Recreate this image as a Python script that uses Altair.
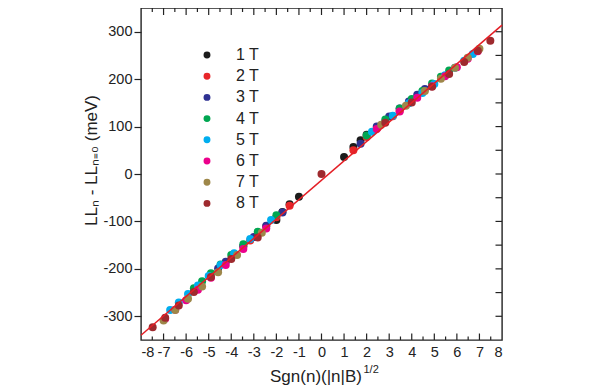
import altair as alt
import pandas as pd

fields = ["1 T", "2 T", "3 T", "4 T", "5 T", "6 T", "7 T", "8 T"]
colors = ["#1c1c1c", "#e8262a", "#2e3192", "#00a651", "#00aeef", "#ec008c", "#9e8749", "#9e2a2e"]

x_1T = [-2.0, -1.732, -1.414, -1.0, 1.0, 1.414, 1.732, 2.0]
y_1T = [-97, -80, -64, -48, 36, 57, 71, 83]
x_2T = [-3.464, -3.162, -2.828, -2.449, -2.0, -1.414, 1.414, 2.0, 2.449, 2.828, 3.162, 3.464]
y_2T = [-153, -140, -126, -110, -91, -67, 50, 78, 96, 110, 122, 133]
x_3T = [-4.583, -4.243, -3.873, -3.464, -3.0, -2.449, -1.732, 1.732, 2.449, 3.0, 3.464, 3.873, 4.243, 4.583]
y_3T = [-199, -185, -169, -152, -133, -109, -81, 64, 100, 121, 138, 153, 167, 179]
x_4T = [-5.657, -5.292, -4.899, -4.472, -4.0, -3.464, -2.828, -2.0, 2.0, 2.828, 3.464, 4.0, 4.472, 4.899, 5.292, 5.657]
y_4T = [-241, -226, -209, -191, -171, -148, -122, -87, 81, 115, 138, 158, 175, 191, 205, 218]
x_5T = [-6.708, -6.325, -5.916, -5.477, -5.0, -4.472, -3.873, -3.162, -2.236, 2.236, 3.162, 3.873, 4.472, 5.0, 5.477, 5.916, 6.325, 6.708]
y_5T = [-287, -271, -253, -235, -215, -192, -167, -137, -97, 89, 123, 149, 171, 190, 208, 224, 239, 253]
x_6T = [-6.928, -6.481, -6.0, -5.477, -4.899, -4.243, -3.464, -2.449, 2.449, 3.464, 4.243, 4.899, 5.477, 6.0, 6.481, 6.928]
y_6T = [-305, -286, -266, -244, -219, -192, -158, -115, 95, 132, 161, 185, 206, 225, 243, 259]
x_7T = [-7.0, -6.481, -5.916, -5.292, -4.583, -3.742, -2.646, 2.646, 3.742, 4.583, 5.292, 5.916, 6.481, 7.0]
y_7T = [-309, -287, -263, -237, -207, -171, -124, 104, 144, 175, 201, 224, 245, 264]
x_8T = [-7.483, -6.928, -6.325, -5.657, -4.899, -4.0, -2.828, 0.0, 2.828, 4.0, 4.899, 5.657, 6.325, 6.928, 7.483]
y_8T = [-323, -303, -277, -249, -217, -179, -134, 0, 108, 151, 184, 211, 236, 260, 281]

fit_x = [-8, 8]
fit_y = [-340, 314]

x_labels = list(range(-8, 9))
x_major = list(range(-7, 8))
x_minor = [-7.5, -6.5, -5.5, -4.5, -3.5, -2.5, -1.5, -0.5, 0.5, 1.5, 2.5, 3.5, 4.5, 5.5, 6.5, 7.5]
y_labels = [-300, -200, -100, 0, 100, 200, 300]
y_right = [-300, -250, -200, -150, -100, -50, 0, 50, 100, 150, 200, 250, 300]

x_title = "Sgn(n)(|n|B)"
x_title_sup = "1/2"
y_title = "LL\u2099 - LL\u2099\u208c\u2080 (meV)"

W, H = 361, 332
FONT = "Liberation Sans"
INK = "#222222"

xs_list = [x_1T, x_2T, x_3T, x_4T, x_5T, x_6T, x_7T, x_8T]
ys_list = [y_1T, y_2T, y_3T, y_4T, y_5T, y_6T, y_7T, y_8T]
rows = []
for i, (f, xs, ys) in enumerate(zip(fields, xs_list, ys_list)):
    for xv, yv in zip(xs, ys):
        rows.append({"field": f, "x": xv, "y": yv, "ord": i})
df = pd.DataFrame(rows)

xsc = alt.Scale(domain=[-8, 8], nice=False, zero=False)
ysc = alt.Scale(domain=[-350, 350], nice=False, zero=False)

xax = alt.Axis(values=x_labels, tickSize=0, labelPadding=5, domain=False, grid=False, title=None,
               labelExpr="'' + datum.value", labelFont=FONT, labelFontSize=14.5, labelColor=INK)
yax = alt.Axis(values=y_labels, tickSize=7, labelPadding=2, domain=False, grid=False, title=None,
               tickColor=INK, tickWidth=1.2, labelExpr="'' + datum.value",
               labelFont=FONT, labelFontSize=14.5, labelColor=INK)

points = alt.Chart(df).mark_circle(size=64, opacity=1).encode(
    x=alt.X("x:Q", scale=xsc, axis=xax),
    y=alt.Y("y:Q", scale=ysc, axis=yax),
    color=alt.Color("field:N", scale=alt.Scale(domain=fields, range=colors),
                    legend=alt.Legend(orient="none", legendX=58, legendY=39, title=None,
                                      symbolType="circle", symbolSize=48, labelFontSize=16,
                                      labelFont=FONT, labelColor=INK, labelOffset=21,
                                      rowPadding=5.2, padding=0, symbolStrokeWidth=0)),
    order=alt.Order("ord:Q"),
)

fit = alt.Chart(pd.DataFrame({"x": fit_x, "y": fit_y})).mark_line(color="#e41f26", strokeWidth=1.5).encode(
    x=alt.X("x:Q", scale=xsc, axis=xax), y=alt.Y("y:Q", scale=ysc, axis=yax)
)


def xticks(vals, y0, y1):
    return alt.Chart(pd.DataFrame({"x": vals})).mark_rule(color=INK, strokeWidth=1.2).encode(
        x=alt.X("x:Q", scale=xsc, axis=xax), y=alt.value(y0), y2=alt.value(y1)
    )


def yticks(vals, x0, x1):
    return alt.Chart(pd.DataFrame({"y": vals})).mark_rule(color=INK, strokeWidth=1.2).encode(
        y=alt.Y("y:Q", scale=ysc, axis=yax), x=alt.value(x0), x2=alt.value(x1)
    )


ticks = [
    xticks(x_major, H, H - 6.5),
    xticks(x_minor, H, H - 3.5),
    xticks(x_major, 0, 7),
    xticks(x_minor, 0, 4),
    yticks(y_right, W, W - 6.5),
]

ytl = alt.Chart(pd.DataFrame({"t": [y_title]})).mark_text(
    angle=270, align="center", baseline="alphabetic", fontSize=17, font=FONT, color=INK
).encode(text="t:N", x=alt.value(-44), y=alt.value(152.5))

xtl = alt.Chart(pd.DataFrame({"t": [x_title]})).mark_text(
    align="right", baseline="alphabetic", fontSize=17, font=FONT, color=INK
).encode(text="t:N", x=alt.value(221), y=alt.value(373.5))

xts = alt.Chart(pd.DataFrame({"t": [x_title_sup]})).mark_text(
    align="left", baseline="alphabetic", fontSize=11, font=FONT, color=INK
).encode(text="t:N", x=alt.value(222.5), y=alt.value(365))

chart = alt.layer(points, *ticks, fit, ytl, xtl, xts).properties(
    width=W, height=H,
    padding={"left": 133, "top": 0, "right": 10, "bottom": 50},
    autosize=alt.AutoSizeParams(type="none"),
).configure_view(
    stroke=INK, strokeWidth=1.4
)

chart.save("out.html", embed_options={"renderer": "svg", "actions": False})
